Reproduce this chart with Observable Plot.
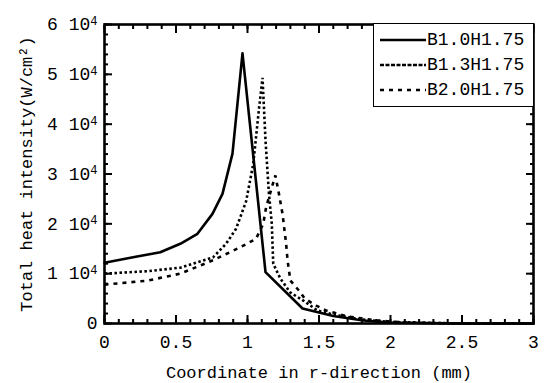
<!DOCTYPE html>
<html>
<head>
<meta charset="utf-8">
<script src="https://cdn.jsdelivr.net/npm/d3@7"></script>
<script src="https://cdn.jsdelivr.net/npm/@observablehq/plot@0.6"></script>
<style>
  body { margin: 0; background: white; }
  #wrap { position: relative; width: 548px; height: 383px; }
  #legend { position: absolute; left: 373px; top: 23px; width: 159px; height: 82px;
    border: 1.5px solid black; background: white; font-family: "Liberation Mono", monospace; font-size: 18px; }
  .row { position: absolute; left: 6px; height: 20px; display: flex; align-items: center; }
  .row svg { display: block; }
  .row span { margin-left: 1px; line-height: 20px; }
</style>
</head>
<body>
<div id="wrap"></div>
<script>
// Series names
const seriesNames = ["B1.0H1.75", "B1.3H1.75", "B2.0H1.75"];

// B1.0H1.75 (solid)
const b10X = [0, 0.2, 0.39, 0.53, 0.65, 0.755, 0.825, 0.895, 0.965, 1.126, 1.385, 1.6, 1.81, 2.0, 2.5, 3.0];
const b10Y = [12200, 13300, 14300, 16000, 18000, 22000, 26000, 34100, 54200, 10300, 3000, 1500, 600, 200, 0, 0];

// B1.3H1.75 (fine dotted)
const b13X = [0, 0.3, 0.53, 0.76, 0.85, 0.92, 0.99, 1.04, 1.08, 1.105, 1.126, 1.15, 1.17, 1.18, 1.23, 1.3, 1.39, 1.49, 1.6, 1.8, 2.0, 2.5, 3.0];
const b13Y = [10000, 10500, 11200, 13300, 16000, 19000, 24500, 32000, 43000, 49300, 36700, 26000, 20000, 12000, 9000, 6200, 4600, 2600, 1800, 800, 300, 0, 0];

// B2.0H1.75 (dashed)
const b20X = [0, 0.3, 0.53, 0.76, 0.95, 1.06, 1.11, 1.13, 1.17, 1.195, 1.22, 1.245, 1.27, 1.28, 1.3, 1.36, 1.4, 1.48, 1.55, 1.7, 1.9, 2.1, 2.5, 3.0];
const b20Y = [7800, 8600, 10000, 12700, 15300, 17000, 20000, 23300, 27300, 29700, 26000, 22000, 16000, 12700, 8600, 6600, 5000, 3600, 2600, 1400, 600, 200, 0, 0];

// Tick values
const xMajor = [0, 0.5, 1, 1.5, 2, 2.5, 3];
const xMinor = d3.range(0, 3.001, 0.1).map(v => +v.toFixed(2));
const yMajor = [0, 10000, 20000, 30000, 40000, 50000, 60000];
const yMinor = d3.range(0, 60001, 2000);

const xTitle = "Coordinate in r-direction (mm)";
const yTitle = "Total heat intensity(W/cm²)";

const toRows = (xs, ys, name) => xs.map((x, i) => ({x, y: ys[i], name}));
const d10 = toRows(b10X, b10Y, seriesNames[0]);
const d13 = toRows(b13X, b13Y, seriesNames[1]);
const d20 = toRows(b20X, b20Y, seriesNames[2]);

const tickW = 2;
const chart = Plot.plot({
  width: 548, height: 383,
  marginLeft: 104, marginRight: 15, marginTop: 24, marginBottom: 60,
  x: {domain: [0, 3]},
  y: {domain: [0, 60000]},
  style: {fontFamily: "Liberation Mono, monospace", fontSize: "18px", color: "black", background: "white", overflow: "visible"},
  marks: [
    Plot.line(d10, {x: "x", y: "y", stroke: "black", strokeWidth: 2.6}),
    Plot.line(d13, {x: "x", y: "y", stroke: "black", strokeWidth: 2.6, strokeDasharray: "2.5,2.5", strokeLinecap: "butt", strokeLinejoin: "miter"}),
    Plot.line(d20, {x: "x", y: "y", stroke: "black", strokeWidth: 2.6, strokeDasharray: "4,5", strokeLinecap: "butt", strokeLinejoin: "miter"}),
    // inward ticks
    Plot.axisX({ticks: xMinor, tickSize: -4, text: null, label: null, strokeWidth: tickW}),
    Plot.axisX({ticks: xMajor, tickSize: -8, text: null, label: null, strokeWidth: tickW}),
    Plot.axisX({anchor: "top", ticks: xMinor, tickSize: -4, text: null, label: null, strokeWidth: tickW}),
    Plot.axisX({anchor: "top", ticks: xMajor, tickSize: -8, text: null, label: null, strokeWidth: tickW}),
    Plot.axisY({ticks: yMinor, tickSize: -4, text: null, label: null, strokeWidth: tickW}),
    Plot.axisY({ticks: yMajor, tickSize: -8, text: null, label: null, strokeWidth: tickW}),
    Plot.axisY({anchor: "right", ticks: yMinor, tickSize: -4, text: null, label: null, strokeWidth: tickW}),
    Plot.axisY({anchor: "right", ticks: yMajor, tickSize: -8, text: null, label: null, strokeWidth: tickW}),
    // labels
    Plot.axisX({ticks: xMajor, tickSize: 0, tickPadding: 12, label: null, tickFormat: d => String(d)}),
    Plot.axisY({ticks: yMajor, tickSize: 0, tickPadding: 7, label: null, tickFormat: d => d === 0 ? "0" : (d / 10000) + " 10^4"}),
    Plot.text([xTitle], {text: d => d, frameAnchor: "bottom", dy: 49, lineAnchor: "middle", textAnchor: "middle", fontSize: 17}),
    Plot.text([yTitle], {text: d => d, frameAnchor: "left", dx: -78, rotate: -90, lineAnchor: "middle", textAnchor: "middle", fontSize: 17}),
    Plot.frame({stroke: "black", strokeWidth: 2.6})
  ]
});

// superscript exponents in y tick labels
d3.select(chart).selectAll("text").each(function() {
  const t = d3.select(this);
  const s = t.text();
  if (s.endsWith(" 10^4")) {
    const base = s.replace("^4", "");
    t.text(base);
    t.append("tspan").attr("dy", "-0.45em").attr("font-size", "12px").text("4");
  }
});

const wrap = document.getElementById("wrap");
wrap.appendChild(chart);

// legend
const legend = document.createElement("div");
legend.id = "legend";
const dashes = [null, "4,1.5", "4,5"];
seriesNames.forEach((name, i) => {
  const row = document.createElement("div");
  row.className = "row";
  row.style.top = (6 + i * 25) + "px";
  const svg = d3.create("svg").attr("width", 46).attr("height", 20);
  const ln = svg.append("line").attr("x1", 0).attr("x2", 46).attr("y1", 10).attr("y2", 10)
    .attr("stroke", "black").attr("stroke-width", 2.6);
  if (dashes[i]) ln.attr("stroke-dasharray", dashes[i]);
  row.appendChild(svg.node());
  const sp = document.createElement("span");
  sp.textContent = name;
  row.appendChild(sp);
  legend.appendChild(row);
});
wrap.appendChild(legend);
</script>
</body>
</html>
